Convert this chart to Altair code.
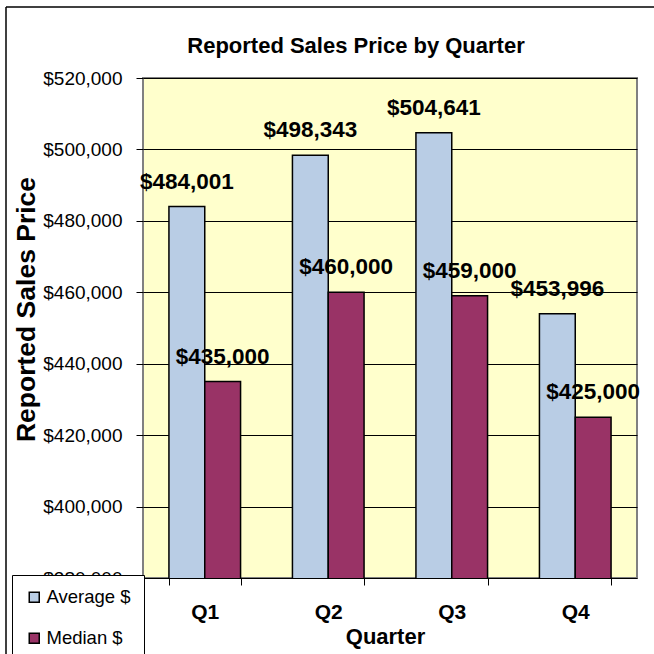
import altair as alt
import pandas as pd

quarters = ["Q1", "Q2", "Q3", "Q4"]
average = [484001, 498343, 504641, 453996]
median = [435000, 460000, 459000, 425000]
series_names = ["Average $", "Median $"]
y_ticks = [380000, 400000, 420000, 440000, 460000, 480000, 500000, 520000]

rows = []
for q, a, m in zip(quarters, average, median):
    rows.append({"Quarter": q, "Series": series_names[0], "Value": a})
    rows.append({"Quarter": q, "Series": series_names[1], "Value": m})
df = pd.DataFrame(rows)

FONT = "Liberation Sans, Arial, sans-serif"

x_enc = alt.X(
    "Quarter:N",
    sort=quarters,
    scale=alt.Scale(paddingInner=0.42, paddingOuter=0.21),
    axis=alt.Axis(
        title="Quarter",
        labelAngle=0,
        labelFont=FONT,
        labelFontSize=21,
        labelFontWeight="bold",
        labelColor="black",
        labelBaseline="alphabetic",
        labelPadding=33,
        tickBand="extent",
        tickColor="black",
        tickSize=7,
        domain=False,
        titleFont=FONT,
        titleFontSize=22,
        titleFontWeight="bold",
        titleColor="black",
        titleBaseline="alphabetic",
        titleAlign="center",
        titleX=242,
        titleY=65,
    ),
)

y_enc = alt.Y(
    "Value:Q",
    scale=alt.Scale(domain=[380000, 520000], zero=False, nice=False),
    axis=alt.Axis(
        title="Reported Sales Price",
        values=y_ticks,
        format="$,.0f",
        labelFont=FONT,
        labelFontSize=19,
        labelColor="black",
        labelPadding=14,
        tickColor="black",
        tickSize=7,
        grid=True,
        gridColor="black",
        gridWidth=1,
        gridOpacity=1,
        domain=False,
        titleFont=FONT,
        titleFontSize=26.5,
        titleFontWeight="bold",
        titleColor="black",
        titleAngle=-90,
        titleBaseline="alphabetic",
        titleAlign="center",
        titleX=-109,
        titleY=231,
    ),
)

color_enc = alt.Color(
    "Series:N",
    scale=alt.Scale(domain=series_names, range=["#B9CDE5", "#993366"]),
    legend=alt.Legend(
        title=None,
        orient="none",
        legendX=-131,
        legendY=497,
        symbolType="square",
        symbolSize=100,
        symbolStrokeColor="black",
        symbolStrokeWidth=1.5,
        labelFont=FONT,
        labelFontSize=18.5,
        labelColor="black",
        labelOffset=3,
        rowPadding=22,
        padding=13,
        strokeColor="black",
        fillColor="white",
        cornerRadius=0,
    ),
)

bars = alt.Chart(df).mark_bar(stroke="black", strokeWidth=1.5, clip=True).encode(
    x=x_enc,
    xOffset=alt.XOffset("Series:N", sort=series_names),
    y=y_enc,
    color=color_enc,
)

labels = alt.Chart(df).mark_text(
    font=FONT,
    fontSize=22.5,
    fontWeight="bold",
    color="black",
    baseline="alphabetic",
    align="center",
    dy=-18,
).encode(
    x=alt.X("Quarter:N", sort=quarters),
    xOffset=alt.XOffset("Series:N", sort=series_names),
    y=alt.Y("Value:Q"),
    text=alt.Text("Value:Q", format="$,.0f"),
)

frame_data = alt.Data(values=[{"k": 1}])
frame_left = alt.Chart(frame_data).mark_rule(color="black", strokeWidth=1.5).encode(
    x=alt.value(-137), y=alt.value(-71), y2=alt.value(600)
)
frame_top = alt.Chart(frame_data).mark_rule(color="black", strokeWidth=1.5).encode(
    x=alt.value(-137), x2=alt.value(600), y=alt.value(-71)
)

chart = alt.layer(bars, labels, frame_left, frame_top).properties(
    width=494,
    height=500,
    autosize=alt.AutoSizeParams(type="none"),
    padding={"left": 143, "top": 78, "right": 17, "bottom": 76},
    background="white",
    title=alt.TitleParams(
        "Reported Sales Price by Quarter",
        font=FONT,
        fontSize=22,
        fontWeight="bold",
        color="black",
        anchor="middle",
        frame="group",
        baseline="alphabetic",
        offset=0,
        dx=-34,
        dy=69,
    ),
).configure_view(
    fill="#FFFFCC",
    stroke="#808080",
    strokeWidth=2,
)

chart.save("out.html", embed_options={"renderer": "svg", "actions": False})
